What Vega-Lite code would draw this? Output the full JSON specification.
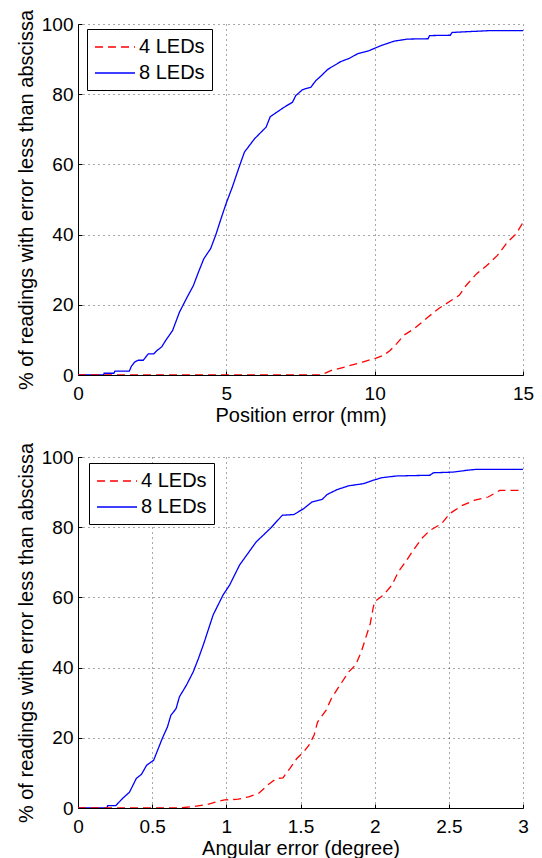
{
  "$schema": "https://vega.github.io/schema/vega-lite/v6.json",
  "background": "white",
  "padding": {"left": 16, "top": 9, "right": 5, "bottom": 5},
  "spacing": 82,
  "bounds": "flush",
  "datasets": {
    "pos": [
      {"s":"8 LEDs","x":0,"y":0},{"s":"8 LEDs","x":0.86,"y":0},{"s":"8 LEDs","x":0.88,"y":0.5},{"s":"8 LEDs","x":1.21,"y":0.5},{"s":"8 LEDs","x":1.245,"y":1.1},{"s":"8 LEDs","x":1.73,"y":1.1},{"s":"8 LEDs","x":1.8,"y":2.5},{"s":"8 LEDs","x":1.91,"y":3.7},{"s":"8 LEDs","x":2.03,"y":4.2},{"s":"8 LEDs","x":2.2,"y":4.2},{"s":"8 LEDs","x":2.3,"y":5.3},{"s":"8 LEDs","x":2.37,"y":6},{"s":"8 LEDs","x":2.55,"y":6},{"s":"8 LEDs","x":2.665,"y":7},{"s":"8 LEDs","x":2.82,"y":8},{"s":"8 LEDs","x":2.96,"y":9.9},{"s":"8 LEDs","x":3.19,"y":12.7},{"s":"8 LEDs","x":3.42,"y":17.9},{"s":"8 LEDs","x":3.65,"y":21.7},{"s":"8 LEDs","x":3.89,"y":25.5},{"s":"8 LEDs","x":4.06,"y":29.3},{"s":"8 LEDs","x":4.24,"y":33.1},{"s":"8 LEDs","x":4.47,"y":36},{"s":"8 LEDs","x":4.64,"y":39.8},{"s":"8 LEDs","x":4.82,"y":44.5},{"s":"8 LEDs","x":4.99,"y":48.8},{"s":"8 LEDs","x":5.2,"y":53.5},{"s":"8 LEDs","x":5.45,"y":59.7},{"s":"8 LEDs","x":5.61,"y":63.5},{"s":"8 LEDs","x":5.95,"y":67.3},{"s":"8 LEDs","x":6.34,"y":70.6},{"s":"8 LEDs","x":6.48,"y":73.6},{"s":"8 LEDs","x":6.95,"y":76.3},{"s":"8 LEDs","x":7.23,"y":77.7},{"s":"8 LEDs","x":7.34,"y":79.6},{"s":"8 LEDs","x":7.57,"y":81.3},{"s":"8 LEDs","x":7.85,"y":82},{"s":"8 LEDs","x":8.02,"y":83.9},{"s":"8 LEDs","x":8.18,"y":85.1},{"s":"8 LEDs","x":8.41,"y":87},{"s":"8 LEDs","x":8.58,"y":87.9},{"s":"8 LEDs","x":8.86,"y":89.3},{"s":"8 LEDs","x":9.14,"y":90.2},{"s":"8 LEDs","x":9.42,"y":91.5},{"s":"8 LEDs","x":9.81,"y":92.4},{"s":"8 LEDs","x":10.2,"y":93.8},{"s":"8 LEDs","x":10.65,"y":95.1},{"s":"8 LEDs","x":11.1,"y":95.7},{"s":"8 LEDs","x":11.8,"y":95.8},{"s":"8 LEDs","x":11.85,"y":96.7},{"s":"8 LEDs","x":12.55,"y":96.8},{"s":"8 LEDs","x":12.61,"y":97.6},{"s":"8 LEDs","x":13.85,"y":98.1},{"s":"8 LEDs","x":15,"y":98.1},
      {"s":"4 LEDs","x":0,"y":0},{"s":"4 LEDs","x":8.19,"y":0},{"s":"4 LEDs","x":8.54,"y":1.3},{"s":"4 LEDs","x":9.0,"y":2.3},{"s":"4 LEDs","x":9.59,"y":3.7},{"s":"4 LEDs","x":10.05,"y":4.8},{"s":"4 LEDs","x":10.3,"y":5.6},{"s":"4 LEDs","x":10.52,"y":7},{"s":"4 LEDs","x":10.75,"y":9},{"s":"4 LEDs","x":10.98,"y":11.3},{"s":"4 LEDs","x":11.33,"y":13.2},{"s":"4 LEDs","x":11.8,"y":16.5},{"s":"4 LEDs","x":12.15,"y":18.9},{"s":"4 LEDs","x":12.5,"y":20.8},{"s":"4 LEDs","x":12.85,"y":22.7},{"s":"4 LEDs","x":13.08,"y":25.5},{"s":"4 LEDs","x":13.43,"y":28.8},{"s":"4 LEDs","x":13.78,"y":31.2},{"s":"4 LEDs","x":14.13,"y":34},{"s":"4 LEDs","x":14.48,"y":37.9},{"s":"4 LEDs","x":14.77,"y":40.2},{"s":"4 LEDs","x":15,"y":43.5}
    ],
    "ang": [
      {"s":"8 LEDs","x":0,"y":0},{"s":"8 LEDs","x":0.195,"y":0},{"s":"8 LEDs","x":0.2,"y":0.66},{"s":"8 LEDs","x":0.254,"y":0.66},{"s":"8 LEDs","x":0.3,"y":2.7},{"s":"8 LEDs","x":0.347,"y":4.5},{"s":"8 LEDs","x":0.393,"y":8.4},{"s":"8 LEDs","x":0.428,"y":9.6},{"s":"8 LEDs","x":0.463,"y":12.2},{"s":"8 LEDs","x":0.51,"y":13.6},{"s":"8 LEDs","x":0.568,"y":19.8},{"s":"8 LEDs","x":0.603,"y":23.1},{"s":"8 LEDs","x":0.626,"y":26.4},{"s":"8 LEDs","x":0.661,"y":28.3},{"s":"8 LEDs","x":0.684,"y":31.7},{"s":"8 LEDs","x":0.731,"y":35},{"s":"8 LEDs","x":0.777,"y":38.8},{"s":"8 LEDs","x":0.812,"y":42.6},{"s":"8 LEDs","x":0.845,"y":46.5},{"s":"8 LEDs","x":0.911,"y":55},{"s":"8 LEDs","x":0.978,"y":60.7},{"s":"8 LEDs","x":1.022,"y":63.5},{"s":"8 LEDs","x":1.089,"y":69.2},{"s":"8 LEDs","x":1.145,"y":72.5},{"s":"8 LEDs","x":1.201,"y":75.8},{"s":"8 LEDs","x":1.268,"y":78.5},{"s":"8 LEDs","x":1.3,"y":79.8},{"s":"8 LEDs","x":1.377,"y":83.4},{"s":"8 LEDs","x":1.455,"y":83.6},{"s":"8 LEDs","x":1.522,"y":85.3},{"s":"8 LEDs","x":1.545,"y":86.1},{"s":"8 LEDs","x":1.578,"y":87.2},{"s":"8 LEDs","x":1.646,"y":87.9},{"s":"8 LEDs","x":1.679,"y":89.3},{"s":"8 LEDs","x":1.746,"y":90.7},{"s":"8 LEDs","x":1.825,"y":91.8},{"s":"8 LEDs","x":1.925,"y":92.4},{"s":"8 LEDs","x":1.992,"y":93.4},{"s":"8 LEDs","x":2.048,"y":94.1},{"s":"8 LEDs","x":2.149,"y":94.6},{"s":"8 LEDs","x":2.373,"y":94.8},{"s":"8 LEDs","x":2.395,"y":95.5},{"s":"8 LEDs","x":2.53,"y":95.7},{"s":"8 LEDs","x":2.619,"y":96.2},{"s":"8 LEDs","x":2.686,"y":96.5},{"s":"8 LEDs","x":3,"y":96.5},
      {"s":"4 LEDs","x":0,"y":0},{"s":"4 LEDs","x":0.684,"y":0},{"s":"4 LEDs","x":0.777,"y":0.4},{"s":"4 LEDs","x":0.87,"y":1},{"s":"4 LEDs","x":0.94,"y":1.8},{"s":"4 LEDs","x":0.987,"y":2.3},{"s":"4 LEDs","x":1.08,"y":2.5},{"s":"4 LEDs","x":1.15,"y":3.2},{"s":"4 LEDs","x":1.219,"y":4.2},{"s":"4 LEDs","x":1.278,"y":6.5},{"s":"4 LEDs","x":1.336,"y":8.4},{"s":"4 LEDs","x":1.382,"y":8.6},{"s":"4 LEDs","x":1.429,"y":11.3},{"s":"4 LEDs","x":1.475,"y":14.1},{"s":"4 LEDs","x":1.522,"y":16},{"s":"4 LEDs","x":1.557,"y":17.9},{"s":"4 LEDs","x":1.592,"y":20.8},{"s":"4 LEDs","x":1.615,"y":24.5},{"s":"4 LEDs","x":1.673,"y":27.9},{"s":"4 LEDs","x":1.708,"y":31.2},{"s":"4 LEDs","x":1.766,"y":35},{"s":"4 LEDs","x":1.825,"y":38.8},{"s":"4 LEDs","x":1.871,"y":40.7},{"s":"4 LEDs","x":1.91,"y":44.5},{"s":"4 LEDs","x":1.94,"y":48.5},{"s":"4 LEDs","x":1.97,"y":52.5},{"s":"4 LEDs","x":1.99,"y":57},{"s":"4 LEDs","x":2.0,"y":58.8},{"s":"4 LEDs","x":2.06,"y":60.7},{"s":"4 LEDs","x":2.116,"y":63.5},{"s":"4 LEDs","x":2.16,"y":67.3},{"s":"4 LEDs","x":2.216,"y":70.6},{"s":"4 LEDs","x":2.261,"y":73.5},{"s":"4 LEDs","x":2.317,"y":76.8},{"s":"4 LEDs","x":2.373,"y":79.1},{"s":"4 LEDs","x":2.451,"y":81},{"s":"4 LEDs","x":2.507,"y":83.9},{"s":"4 LEDs","x":2.586,"y":86.1},{"s":"4 LEDs","x":2.675,"y":87.7},{"s":"4 LEDs","x":2.765,"y":88.6},{"s":"4 LEDs","x":2.843,"y":90.5},{"s":"4 LEDs","x":3,"y":90.5}
    ]
  },
  "vconcat": [
    {
      "width": 445,
      "height": 351,
      "data": {"name": "pos"},
      "mark": {"type": "line", "strokeWidth": 1.3, "clip": true},
      "encoding": {
        "x": {"field": "x", "type": "quantitative", "scale": {"domain": [0, 15], "nice": false, "zero": false}, "axis": {"values": [0, 5, 10, 15], "title": "Position error (mm)"}},
        "y": {"field": "y", "type": "quantitative", "scale": {"domain": [0, 100], "nice": false}, "axis": {"values": [0, 20, 40, 60, 80, 100], "title": "% of readings with error less than abscissa"}},
        "color": {"field": "s", "type": "nominal", "scale": {"domain": ["4 LEDs", "8 LEDs"], "range": ["#ff0000", "#0000ff"]}, "legend": {"orient": "none", "legendX": 9, "legendY": 5, "title": null}},
        "strokeDash": {"field": "s", "type": "nominal", "scale": {"domain": ["4 LEDs", "8 LEDs"], "range": [[8, 5], [1, 0]]}, "legend": {"orient": "none", "legendX": 9, "legendY": 5, "title": null}}
      }
    },
    {
      "width": 445,
      "height": 351,
      "data": {"name": "ang"},
      "mark": {"type": "line", "strokeWidth": 1.3, "clip": true},
      "encoding": {
        "x": {"field": "x", "type": "quantitative", "scale": {"domain": [0, 3], "nice": false, "zero": false}, "axis": {"values": [0, 0.5, 1, 1.5, 2, 2.5, 3], "format": "~g", "title": "Angular error (degree)"}},
        "y": {"field": "y", "type": "quantitative", "scale": {"domain": [0, 100], "nice": false}, "axis": {"values": [0, 20, 40, 60, 80, 100], "title": "% of readings with error less than abscissa"}},
        "color": {"field": "s", "type": "nominal", "scale": {"domain": ["4 LEDs", "8 LEDs"], "range": ["#ff0000", "#0000ff"]}, "legend": {"orient": "none", "legendX": 11, "legendY": 6, "title": null}},
        "strokeDash": {"field": "s", "type": "nominal", "scale": {"domain": ["4 LEDs", "8 LEDs"], "range": [[8, 5], [1, 0]]}, "legend": {"orient": "none", "legendX": 11, "legendY": 6, "title": null}}
      }
    }
  ],
  "resolve": {"scale": {"color": "independent", "strokeDash": "independent"}},
  "config": {
    "view": {"stroke": null},
    "font": "Liberation Sans",
    "axis": {
      "labelFont": "Liberation Sans",
      "titleFont": "Liberation Sans",
      "labelFontSize": 19,
      "titleFontSize": 20,
      "titleFontWeight": "normal",
      "labelColor": "black",
      "titleColor": "black",
      "domainColor": "black",
      "domainWidth": 1,
      "tickColor": "black",
      "tickSize": -4,
      "tickWidth": 1,
      "grid": true,
      "gridColor": "#333333",
      "gridDash": [1, 4],
      "gridWidth": 1,
      "gridOpacity": 0.85,
      "labelFlush": false,
      "labelOverlap": false
    },
    "axisX": {"labelPadding": 13, "titlePadding": 2},
    "axisY": {"labelPadding": 9, "titlePadding": 5},
    "legend": {
      "labelFont": "Liberation Sans",
      "labelFontSize": 20,
      "labelColor": "black",
      "symbolType": "M-1,0H3",
      "symbolSize": 400,
      "symbolStrokeWidth": 1.3,
      "strokeColor": "black",
      "fillColor": "white",
      "padding": 7,
      "rowPadding": 5,
      "labelOffset": 23,
      "cornerRadius": 0
    }
  }
}
